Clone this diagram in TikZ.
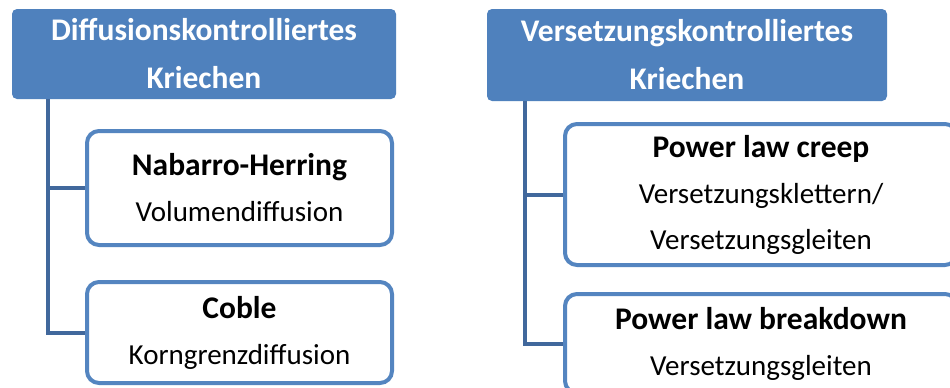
\documentclass[tikz,border=0pt]{standalone}
\usepackage{fontspec}
\setmainfont{Carlito}
\definecolor{headblue}{RGB}{79,129,189}
\definecolor{boxblue}{RGB}{84,133,192}
\definecolor{linkblue}{RGB}{65,104,156}
\newcommand{\leaftitle}[1]{{\fontsize{31.5}{46}\selectfont\bfseries #1}}

\tikzset{
  headbox/.style={fill=headblue,text=white,rounded corners=5pt,align=center,
    inner sep=0pt,font=\fontsize{31.5}{48}\selectfont\bfseries},
  leafbox/.style={draw=boxblue,line width=4pt,fill=white,rounded corners=12pt,
    align=center,inner sep=0pt,font=\fontsize{29}{46}\selectfont},
  link/.style={draw=linkblue,line width=4pt}
}

\begin{document}
\begin{tikzpicture}[x=1pt,y=-1pt]
  \clip (0,0) rectangle (950,388);
  \fill[white] (0,0) rectangle (950,388);

  % left column
  \node[headbox,minimum width=384pt,minimum height=90pt] (diffhead) at (204,54)
    {Diffusionskontrolliertes\\Kriechen};
  \node[leafbox,minimum width=305pt,minimum height=114pt] (nabarro) at (239.5,188)
    {\leaftitle{Nabarro-Herring}\\Volumendiffusion};
  \node[leafbox,minimum width=305pt,minimum height=101pt] (coble) at (239.5,332.5)
    {\leaftitle{Coble}\\Korngrenzdiffusion};

  \draw[link] ([xshift=36pt]diffhead.south west) |- (nabarro.west);
  \draw[link] ([xshift=36pt]diffhead.south west) |- (coble.west);

  % right column
  \node[headbox,minimum width=400pt,minimum height=92pt] (verhead) at (687,55)
    {Versetzungskontrolliertes\\Kriechen};
  \node[leafbox,minimum width=392pt,minimum height=141pt] (plcreep) at (761,194.5)
    {\leaftitle{Power law creep}\\Versetzungsklettern/\\Versetzungsgleiten};
  \node[leafbox,minimum width=392pt,minimum height=99pt] (plbreak) at (761,343.5)
    {\leaftitle{Power law breakdown}\\Versetzungsgleiten};

  \draw[link] ([xshift=38pt]verhead.south west) |- (plcreep.west);
  \draw[link] ([xshift=38pt]verhead.south west) |- (plbreak.west);
\end{tikzpicture}
\end{document}
